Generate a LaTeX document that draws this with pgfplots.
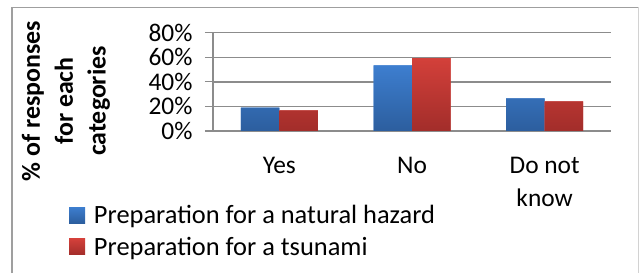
\documentclass[border=0pt]{standalone}
\usepackage{pgfplots}
\pgfplotsset{compat=1.18}
\usepackage{fontspec}
\setmainfont{Carlito}
\definecolor{blueT}{HTML}{3D7ECF}
\definecolor{blueB}{HTML}{2C5E9E}
\definecolor{redT}{HTML}{D3403A}
\definecolor{redB}{HTML}{A22D2A}
\definecolor{gridc}{HTML}{8C8C8C}
\begin{document}
\begin{tikzpicture}
\path (0,0) rectangle (639bp,273bp);
\draw[gray!75, line width=1.2bp] (12bp,0) -- (12bp,265.7bp) -- (638bp,265.7bp);
\draw[gray!35, line width=1bp] (638bp,265.7bp) -- (638bp,0);
\node[rotate=90, align=center, font=\fontsize{26}{33}\selectfont\bfseries, anchor=center]
  at (66bp,{273bp-101bp}) {\% of responses\\for each\\categories};
\begin{axis}[
  at={(213bp,142bp)}, anchor=south west,
  scale only axis, width=398bp, height=98.3bp,
  xmin=-0.5, xmax=2.5, ymin=0, ymax=80,
  ybar=0pt, bar width=38.5bp,
  xtick={0,1,2}, xticklabels={Yes,No,Do not\\know},
  xticklabel style={align=center, font=\fontsize{25.5}{32.5}\selectfont, yshift=-15bp},
  xtick style={draw=none},
  ytick={0,20,40,60,80}, yticklabels={0\%,20\%,40\%,60\%,80\%},
  yticklabel style={font=\fontsize{25.5}{28}\selectfont, xshift=-9bp},
  tick align=outside, major tick length=8bp,
  ytick style={gridc, line width=1.2bp},
  ymajorgrids, grid style={gridc, line width=1.5bp},
  axis x line*=bottom, axis y line*=left,
  axis line style={gridc, line width=1.2bp, -},
  legend style={at={(-0.3618,-1.017)}, anchor=west, draw=none, fill=none,
    font=\fontsize{26.5}{28}\selectfont, legend cell align=left, row sep=8bp,
    inner sep=0pt, outer sep=0pt},
  legend image code/.code={\fill[#1] (0bp,-8bp) rectangle (16bp,8bp);},
  /tikz/every odd column/.append style={column sep=7bp},
]
\addplot[draw=none, top color=blueT, bottom color=blueB, fill=blueT] coordinates {(0,19) (1,53.4) (2,26.6)};
\addplot[draw=none, top color=redT, bottom color=redB, fill=redT] coordinates {(0,16.8) (1,59.3) (2,24.1)};
\legend{Preparation for a natural hazard, Preparation for a tsunami}
\end{axis}
\end{tikzpicture}
\end{document}
